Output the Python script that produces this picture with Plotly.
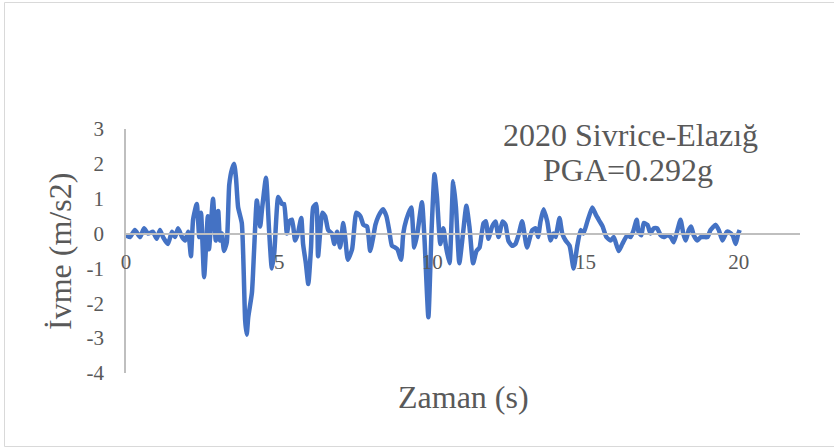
import plotly.graph_objects as go

# Time (s) and acceleration (m/s2)
zaman = [0.0, 0.13, 0.29, 0.46, 0.59, 0.72, 0.88, 1.0, 1.11, 1.21, 1.37, 1.50, 1.60, 1.70, 1.83, 1.93,
         2.03, 2.12, 2.19, 2.31, 2.39, 2.45, 2.55, 2.67, 2.71, 2.84, 2.93, 3.01, 3.07, 3.13, 3.20, 3.29,
         3.37, 3.46, 3.53, 3.59, 3.66, 3.78, 3.89, 3.94, 3.99, 4.11, 4.18, 4.27, 4.38, 4.44, 4.57, 4.67,
         4.76, 4.84, 4.97, 5.09, 5.16, 5.25, 5.33, 5.42, 5.52, 5.61, 5.72, 5.78, 5.87, 5.95, 6.04, 6.11,
         6.21, 6.27, 6.41, 6.50, 6.60, 6.72, 6.80, 6.89, 6.99, 7.09, 7.16, 7.24, 7.38, 7.52, 7.65, 7.75,
         7.87, 7.97, 8.07, 8.14, 8.24, 8.39, 8.50, 8.59, 8.68, 8.79, 8.86, 8.98, 9.05, 9.15, 9.31, 9.41,
         9.51, 9.66, 9.74, 9.87, 9.97, 10.07, 10.15, 10.26, 10.36, 10.45, 10.56, 10.68, 10.77, 10.88,
         11.0, 11.11, 11.21, 11.33, 11.44, 11.54, 11.67, 11.75, 11.83, 11.95, 12.06, 12.16, 12.29, 12.39,
         12.48, 12.60, 12.71, 12.81, 12.93, 13.09, 13.26, 13.37, 13.45, 13.53, 13.63, 13.75, 13.86, 13.95,
         14.02, 14.15, 14.24, 14.35, 14.48, 14.61, 14.73, 14.84, 14.93, 15.06, 15.22, 15.33, 15.46, 15.56,
         15.68, 15.82, 15.92, 16.08, 16.20, 16.36, 16.47, 16.57, 16.67, 16.73, 16.82, 16.90, 17.02, 17.12,
         17.22, 17.34, 17.45, 17.55, 17.67, 17.78, 17.88, 18.0, 18.10, 18.19, 18.27, 18.37, 18.45, 18.53,
         18.65, 18.76, 18.86, 18.98, 19.08, 19.25, 19.35, 19.47, 19.61, 19.67, 19.80, 19.90, 19.97, 20.03]
ivme = [-0.05, -0.1, 0.1, -0.1, 0.15, 0.0, 0.05, -0.15, 0.1, -0.1, -0.3, 0.05, -0.1, 0.15, -0.1, -0.2,
        0.05, -0.65, 0.4, 0.85, -0.1, 0.6, -1.25, 0.5, -0.45, 1.0, -0.2, 0.65, -0.2, 0.0, -0.5, -0.25,
        1.4, 1.85, 2.0, 1.6, 0.75, 0.3, -2.5, -2.9, -2.4, -1.7, -0.5, 0.95, 0.2, 0.7, 1.6, 0.1,
        -1.0, -0.55, 1.05, 0.85, 0.85, 0.0, 0.35, 0.4, -0.2, 0.0, 0.45, -0.3, -0.85, -1.45, -0.4, 0.75,
        0.85, -0.65, 0.6, 0.5, 0.1, 0.0, -0.3, 0.05, -0.4, 0.3, -0.15, -0.75, -0.45, 0.6, 0.5, 0.25,
        0.2, -0.5, -0.1, 0.25, 0.5, 0.7, 0.5, 0.1, -0.35, -0.4, -0.45, -0.75, 0.0, 0.4, 0.75, -0.4,
        0.0, 0.9, -0.1, -2.4, 0.0, 1.7, 1.05, -0.3, 0.15, -0.4, -0.85, 1.5, 0.75, -0.85,
        0.0, 0.8, 0.2, -0.85, -0.5, -0.4, 0.3, 0.35, -0.15, 0.2, 0.35, -0.1, 0.35, 0.25,
        -0.2, -0.35, -0.3, -0.05, 0.35, -0.4, 0.1, 0.15, -0.1, 0.35, 0.7, 0.35, -0.2, 0.0,
        -0.1, 0.45, 0.0, -0.2, -0.35, -1.0, -0.35, 0.1, 0.0, 0.35, 0.75, 0.55, 0.35, 0.2,
        -0.1, -0.2, -0.1, -0.5, -0.3, -0.05, -0.1, 0.1, 0.4, 0.05, -0.05, 0.3, 0.25, 0.0,
        0.15, 0.15, -0.05, -0.1, -0.05, -0.1, -0.25, 0.1, 0.4, 0.0, -0.2, 0.1, 0.2, -0.05,
        -0.2, -0.1, -0.1, -0.1, 0.1, 0.25, 0.1, -0.2, 0.05, 0.05, -0.05, -0.3, -0.05, 0.1]

x_ticks = [0, 5, 10, 15, 20]
y_ticks = [-4, -3, -2, -1, 0, 1, 2, 3]
title_lines = ["2020 Sivrice-Elazığ", "PGA=0.292g"]
x_title = "Zaman (s)"
y_title = "İvme (m/s2)"

FONT = "Liberation Serif"
GREY = "#595959"
AXIS = "#BFBFBF"

fig = go.Figure()
fig.add_trace(go.Scatter(x=zaman, y=ivme, mode="lines",
                         line=dict(color="#4472C4", width=4.5, shape="spline", smoothing=0.5),
                         showlegend=False, hoverinfo="skip"))
# invisible trace to carry the zero-crossing axis
fig.add_trace(go.Scatter(x=[0], y=[0], xaxis="x2", mode="markers",
                         marker=dict(opacity=0), showlegend=False, hoverinfo="skip"))

L, R, T, B = 126, 34, 129, 75
W, H = 834, 448
pw, ph = W - L - R, H - T - B

fig.update_layout(
    width=W, height=H,
    margin=dict(l=L, r=R, t=T, b=B),
    paper_bgcolor="white", plot_bgcolor="white",
    font=dict(family=FONT, color=GREY),
    xaxis=dict(range=[0, 22], showline=False, showgrid=False, zeroline=False,
               showticklabels=False, ticks="", automargin=False),
    xaxis2=dict(range=[0, 22], overlaying="x", anchor="free", position=4 / 7,
                side="bottom", showline=True, linecolor=AXIS, linewidth=1.5,
                showgrid=False, zeroline=False, tickvals=x_ticks,
                ticktext=[str(v) for v in x_ticks], ticks="",
                ticklabelstandoff=9,
                tickfont=dict(family=FONT, size=21, color=GREY), automargin=False),
    yaxis=dict(range=[-4, 3], showline=True, linecolor=AXIS, linewidth=1.5,
               showgrid=False, zeroline=False, tickvals=y_ticks,
               ticktext=[str(v) for v in y_ticks], ticks="", ticklabelstandoff=16,
               tickfont=dict(family=FONT, size=21, color=GREY),
               automargin=False),
)

def px_x(x):
    return (x - L) / pw

def px_y(y):
    return (H - B - y) / ph

# axis titles
fig.add_annotation(text=x_title, xref="paper", yref="paper",
                   x=px_x(463), y=px_y(397), xanchor="center", yanchor="middle",
                   showarrow=False, font=dict(family=FONT, size=32, color=GREY))
fig.add_annotation(text=y_title, xref="paper", yref="paper", textangle=-90,
                   x=px_x(60), y=px_y(252), xanchor="center", yanchor="middle",
                   showarrow=False, font=dict(family=FONT, size=32, color=GREY))

# chart title
fig.add_annotation(text=title_lines[0], xref="paper", yref="paper",
                   x=px_x(630), y=px_y(134.5), xanchor="center", yanchor="middle",
                   showarrow=False, font=dict(family=FONT, size=32, color=GREY))
fig.add_annotation(text=title_lines[1], xref="paper", yref="paper",
                   x=px_x(628), y=px_y(169.5), xanchor="center", yanchor="middle",
                   showarrow=False, font=dict(family=FONT, size=32, color=GREY))

fig.add_shape(type="rect", xref="paper", yref="paper",
              x0=px_x(4.5), x1=px_x(845), y0=px_y(446.5), y1=px_y(2.5),
              line=dict(color="#D9D9D9", width=1), layer="below")

fig.write_html("out.html")
